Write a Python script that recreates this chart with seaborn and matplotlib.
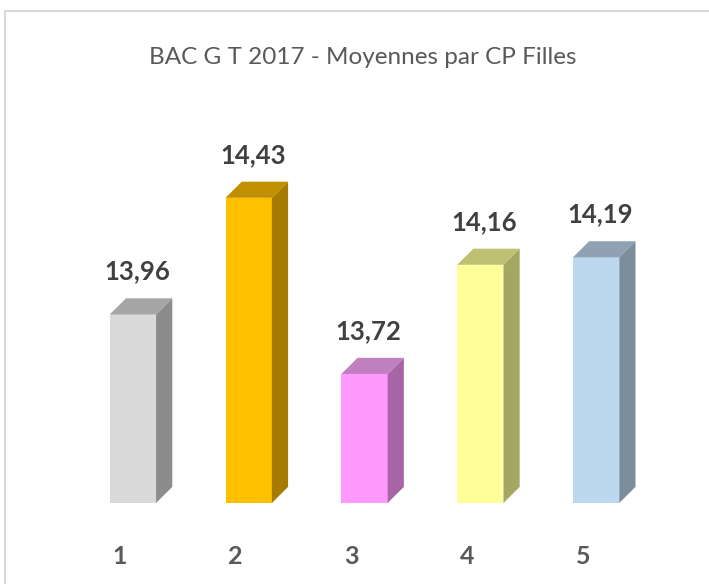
"""
BAC G T 2017 - moyennes par CP, filles (barres facon 3D)
"""

import pandas as pd
import seaborn as sns
import matplotlib.pyplot as plt
from matplotlib.patches import Polygon
from matplotlib.lines import Line2D
from matplotlib.transforms import ScaledTranslation

categories = ["1", "2", "3", "4", "5"]
moyennes = [13.96, 14.43, 13.72, 14.16, 14.19]
labels = ["13,96", "14,43", "13,72", "14,16", "14,19"]

front_colors = ["#D9D9D9", "#FFC000", "#FF99FF", "#FFFF99", "#BDD7EE"]
side_colors = ["#8C8C8C", "#A67C00", "#A666A6", "#A6A663", "#7B8C9B"]
top_colors = ["#A6A6A6", "#C09000", "#C080C0", "#C0C073", "#8EA2B3"]

df = pd.DataFrame({"cp": categories, "moyenne": moyennes})

sns.set_style("white")
plt.rcParams["font.family"] = ["Lato", "DejaVu Sans"]

W, H = 709, 584
fig = plt.figure(figsize=(W / 100, H / 100), dpi=100)
ax = fig.add_axes([75 / W, 81 / H, 579 / W, 397 / H])

sns.barplot(data=df, x="cp", y="moyenne", hue="cp", palette=front_colors,
            legend=False, width=0.4, saturation=1, linewidth=0, edgecolor="none", ax=ax)
ax.set_xlim(-0.5, 4.5)
ax.set_ylim(13.2, 14.8)

# faces laterales et dessus pour l'effet 3D
dx, dy = 0.14, 0.065
base = ax.get_ylim()[0]
for i, p in enumerate(ax.patches):
    x0, w, h = p.get_x(), p.get_width(), p.get_height()
    side = Polygon([(x0 + w, base), (x0 + w + dx, base + dy),
                    (x0 + w + dx, h + dy), (x0 + w, h)],
                   closed=True, facecolor=side_colors[i], edgecolor="none")
    top = Polygon([(x0, h), (x0 + dx, h + dy), (x0 + w + dx, h + dy), (x0 + w, h)],
                  closed=True, facecolor=top_colors[i], edgecolor="none")
    ax.add_patch(side)
    ax.add_patch(top)
    ax.annotate(labels[i], (x0 + w / 2, h), xytext=(3, 31), textcoords="offset points",
                ha="center", va="center", fontsize=18.5, fontweight="bold",
                color="#404040", annotation_clip=False)

ax.set_xlabel("")
ax.set_ylabel("")
ax.set_yticks([])
ax.tick_params(axis="x", length=0, pad=30, labelsize=18, labelcolor="#595959")
for t in ax.get_xticklabels():
    t.set_fontweight("bold")
    t.set_transform(t.get_transform() + ScaledTranslation(-13 / 100, 0, fig.dpi_scale_trans))
sns.despine(ax=ax, left=True, bottom=True)

fig.text(363 / W, 1 - 58 / H, "BAC G T 2017 - Moyennes par CP Filles",
         ha="center", va="center", fontsize=17.5, color="#595959")

# cadre du graphique (coupe a droite et en bas)
fig.add_artist(Line2D([5 / W, 1.0], [1 - 11 / H, 1 - 11 / H], color="#D9D9D9", lw=1.5))
fig.add_artist(Line2D([5 / W, 5 / W], [0.0, 1 - 11 / H], color="#D9D9D9", lw=1.5))

fig.savefig("out.png", dpi=100)
plt.close(fig)
